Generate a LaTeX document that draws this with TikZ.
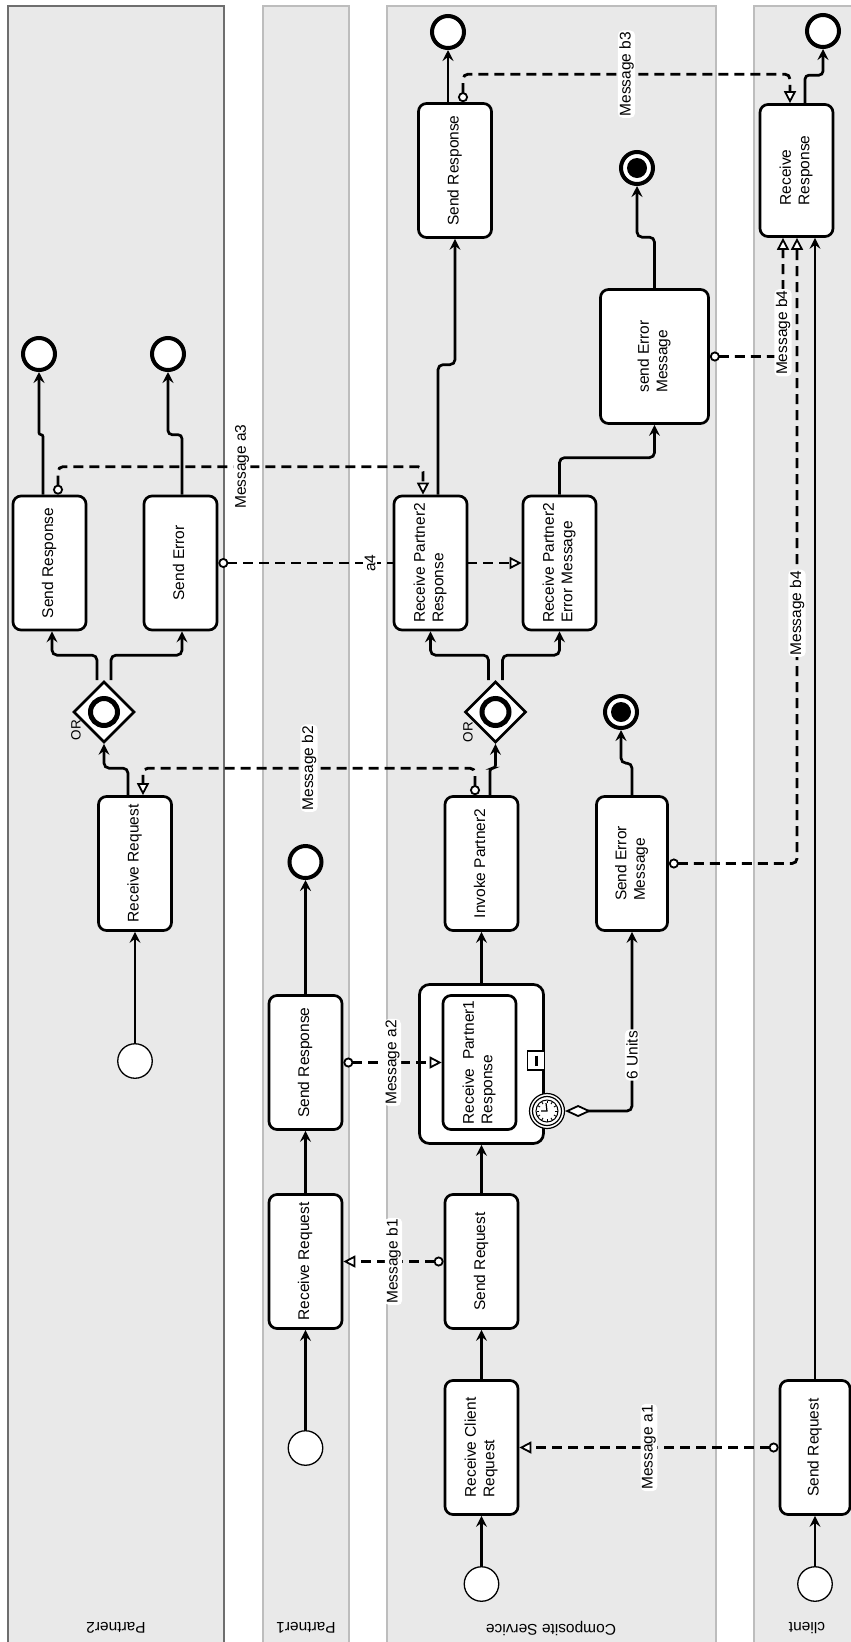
\documentclass[tikz,border=0pt]{standalone}
\usepackage{fontspec}
\setmainfont{Liberation Sans}
\usepackage{graphicx}
\usetikzlibrary{arrows.meta,shapes.geometric,calc}
\definecolor{lanefill}{HTML}{E9E9E9}
\definecolor{laneline}{HTML}{BDBDBD}
\definecolor{lanedark}{HTML}{6E6E6E}
\pgfdeclarelayer{bg}
\pgfsetlayers{bg,main}
\newcommand{\vt}[1]{\rotatebox{90}{\begin{tabular}{@{}l@{}}#1\end{tabular}}}
\tikzset{
  lane/.style={fill=lanefill, draw=laneline, line width=1.3pt},
  task/.style={draw, fill=white, rounded corners=8pt, line width=2.7pt, minimum width=73pt, minimum height=134pt, inner sep=0pt, font=\fontsize{15.5}{18.5}\selectfont},
  startev/.style={circle, draw, fill=white, line width=1.3pt, minimum size=34.5pt, inner sep=0pt},
  endev/.style={circle, draw, fill=white, line width=4pt, minimum size=32pt, inner sep=0pt},
  termev/.style={endev, path picture={\fill[black] (path picture bounding box.center) circle (10pt);}},
  gw/.style={diamond, draw, fill=white, line width=2.7pt, minimum width=61pt, minimum height=61pt, inner sep=0pt, path picture={\draw[black, line width=5pt] (path picture bounding box.center) circle (13.5pt);}},
  seq/.style={line width=2.7pt, rounded corners=5pt, -{Stealth[length=11pt,width=11pt,inset=4pt]}},
  msg/.style={line width=2.8pt, dash pattern=on 10pt off 6pt, rounded corners=5pt, {Circle[length=10pt,fill=white,line width=1.8pt]}-{Triangle[length=12pt,width=12pt,fill=white,line width=1.8pt]}},
  mlabel/.style={rotate=90, fill=white, inner sep=1.5pt, font=\fontsize{15.5}{18.5}\selectfont},
  lanelabel/.style={rotate=180, font=\fontsize{15.5}{18.5}\selectfont},
  orlabel/.style={rotate=90, inner sep=0pt, font=\fontsize{13.5}{15}\selectfont},
}
\begin{document}
\begin{tikzpicture}[x=1pt,y=-1pt]
\useasboundingbox (0,0) rectangle (851,1642);
\begin{pgfonlayer}{bg}
  \draw[lane, draw=lanedark] (8,6) rectangle (224,1660);
  \draw[lane] (263,6) rectangle (349,1660);
  \draw[lane] (387,6) rectangle (716,1660);
  \draw[lane] (754,6) rectangle (880,1660);
\end{pgfonlayer}
% lane labels
\node[lanelabel] (lp2) at (116,1628) {Partner2};
\node[lanelabel] (lp1) at (306,1628) {Partner1};
\node[lanelabel] (lcs) at (551,1628) {Composite Service};
\node[lanelabel] (lcl) at (807,1628) {client};

% Partner2
\node[endev] (p2end1) at (39,354) {};
\node[endev] (p2end2) at (168,354) {};
\node[task] (p2sresp) at (49.5,563) {\vt{Send Response}};
\node[task] (p2serr) at (180.5,563) {\vt{Send Error}};
\node[gw] (p2gw) at (104,712) {};
\node[orlabel] (or1) at (76,730) {OR};
\node[task] (p2rreq) at (135,863.5) {\vt{Receive Request}};
\node[startev] (p2start) at (135,1061) {};

% Partner1
\node[endev] (p1end) at (305.5,862) {};
\node[task] (p1sresp) at (305.5,1062.5) {\vt{Send Response}};
\node[task] (p1rreq) at (305.5,1261.5) {\vt{Receive Request}};
\node[startev] (p1start) at (305.5,1448) {};

% Composite Service
\node[endev] (csend1) at (448,32) {};
\node[task] (cssresp) at (455,170.5) {\vt{Send Response}};
\node[termev] (csend2) at (637,168) {};
\node[task, minimum width=108pt] (cserr1) at (654.5,356.5) {\vt{send Error\\Message}};
\node[task] (csrp2err) at (559.5,563) {\vt{Receive Partner2\\Error Message}};
% message a4 runs behind the Receive Partner2 Response task
\draw[msg] (p2serr.east) -- node[mlabel] (ma4) {a4} (csrp2err.west);
\node[task] (csrp2resp) at (430.5,563) {\vt{Receive Partner2\\Response}};
\node[gw] (csgw) at (495.5,712) {};
\node[orlabel] (or2) at (468,732) {OR};
\node[termev] (csend3) at (621,712) {};
\node[task] (csinv) at (481.5,863.5) {\vt{Invoke Partner2}};
\node[task, minimum width=71pt] (cserr2) at (632,863.5) {\vt{Send Error\\Message}};
\node[draw, fill=white, rounded corners=10pt, line width=2.7pt, minimum width=124pt, minimum height=159pt, inner sep=0pt] (cssub) at (481.5,1064) {};
\node[task] (csrp1) at (479.5,1062.5) {\vt{Receive\ \ Partner1\\Response}};
\node[draw, fill=white, line width=1.2pt, minimum width=17pt, minimum height=19pt, inner sep=0pt] (minus) at (536,1060.5) {};
\draw[line width=3pt] ($(minus.center)+(0,-5)$) -- ($(minus.center)+(0,5)$);
\node[circle, draw, fill=white, line width=1.2pt, minimum size=35pt, inner sep=0pt] (timer) at (547,1111) {};
\draw[line width=1.2pt] (timer.center) circle (14.5pt);
\draw[line width=1pt] (timer.center) circle (11pt);
\foreach \a in {0,30,...,330} \draw[line width=0.9pt] ($(timer.center)+(\a:8pt)$) -- ($(timer.center)+(\a:10.5pt)$);
\draw[line width=1.2pt] ($(timer.center)+(-1,-8)$) -- (timer.center) -- ($(timer.center)+(-6,0)$);
\node[task] (cssreq) at (481.5,1261.5) {\vt{Send Request}};
\node[task] (csrcr) at (481.5,1447.5) {\vt{Receive Client\\Request}};
\node[startev] (csstart) at (481.5,1584) {};

% client
\node[endev] (clend) at (823,31) {};
\node[task, minimum height=132pt] (clrresp) at (796.5,170.5) {\vt{Receive\\Response}};
\node[task, minimum width=70pt] (clsreq) at (815,1447.5) {\vt{Send Request}};
\node[startev] (clstart) at (815,1584) {};

% sequence flows
\draw[seq] (p2start.north) -- (p2rreq.south);
\draw[seq] ([xshift=-7pt]p2rreq.north) -- ++(0,-27) -| (p2gw.south);
\draw[seq] ([xshift=-7pt]p2gw.north) -- ++(0,-25) -| ([xshift=2.5pt]p2sresp.south);
\draw[seq] ([xshift=7pt]p2gw.north) -- ++(0,-25) -| ([xshift=1.5pt]p2serr.south);
\draw[seq, rounded corners=2pt] ([xshift=-6.5pt]p2sresp.north) -- ++(0,-60) -| (p2end1.south);
\draw[seq, rounded corners=4pt] ([xshift=1.5pt]p2serr.north) -- ++(0,-60) -| (p2end2.south);

\draw[seq] (p1start.north) -- (p1rreq.south);
\draw[seq] (p1rreq.north) -- (p1sresp.south);
\draw[seq] (p1sresp.north) -- (p1end.south);

\draw[seq] (csstart.north) -- (csrcr.south);
\draw[seq] (csrcr.north) -- (cssreq.south);
\draw[seq] (cssreq.north) -- (cssub.south);
\draw[seq] (cssub.north) -- (csinv.south);
\draw[seq, rounded corners=3pt] ([xshift=8.5pt]csinv.north) -- ++(0,-27) -| (csgw.south);
\draw[seq] ([xshift=-7pt]csgw.north) -- ++(0,-25) -| (csrp2resp.south);
\draw[seq] ([xshift=7pt]csgw.north) -- ++(0,-25) -| (csrp2err.south);
\draw[seq] ([xshift=7.5pt]csrp2resp.north) -- ++(0,-130) -| (cssresp.south);
\draw[seq] ([xshift=-7pt]cssresp.north) -- (csend1.south);
\draw[seq] (csrp2err.north) -- ++(0,-37) -| (cserr1.south);
\draw[seq] (cserr1.north) -- ++(0,-51) -| (csend2.south);
\draw[seq] (cserr2.north) -- ++(0,-32) -| (csend3.south);
\draw[line width=2.7pt, rounded corners=5pt, {Diamond[length=26pt,width=12pt,fill=white,line width=1.8pt]}-{Stealth[length=11pt,width=11pt,inset=4pt]}] (timer.east) -| node[mlabel,pos=0.656] (u6) {6 Units} (cserr2.south);

\draw[seq] (clstart.north) -- (clsreq.south);
\draw[seq] (clsreq.north) -- (clsreq.north |- clrresp.south);
\draw[seq, rounded corners=4pt] ([xshift=8.5pt]clrresp.north) -- ++(0,-28) -| (clend.south);

% message flows
\draw[msg] (clsreq.west) -- node[mlabel] (ma1) {Message a1} (csrcr.east);
\draw[msg, line width=2.1pt] (cssreq.west) -- node[mlabel] (mb1) {Message b1} (p1rreq.east);
\draw[msg] (p1sresp.east) -- node[mlabel] (ma2) {Message a2} (csrp1.west);
\draw[msg] ([xshift=-6.5pt]csinv.north) -- ++(0,-27) -| node[mlabel,pos=0.25] (mb2) {Message b2} ([xshift=8pt]p2rreq.north);
\draw[msg] ([xshift=8.5pt]p2sresp.north) -- ++(0,-28) -| node[mlabel,pos=0.252] (ma3) {Message a3} ([xshift=-7.5pt]csrp2resp.north);
\draw[msg] ([xshift=8pt]cssresp.north) -- ++(0,-28) -| node[mlabel,pos=0.25] (mb3) {Message b3} ([xshift=-6.5pt]clrresp.north);
\draw[msg] (cserr1.east) -| node[mlabel,pos=0.6] (mb4a) {Message b4} ([xshift=-13.5pt]clrresp.south);
\draw[msg] (cserr2.east) -| node[mlabel,pos=0.7] (mb4b) {Message b4} ([xshift=0.5pt]clrresp.south);
\end{tikzpicture}
\end{document}
